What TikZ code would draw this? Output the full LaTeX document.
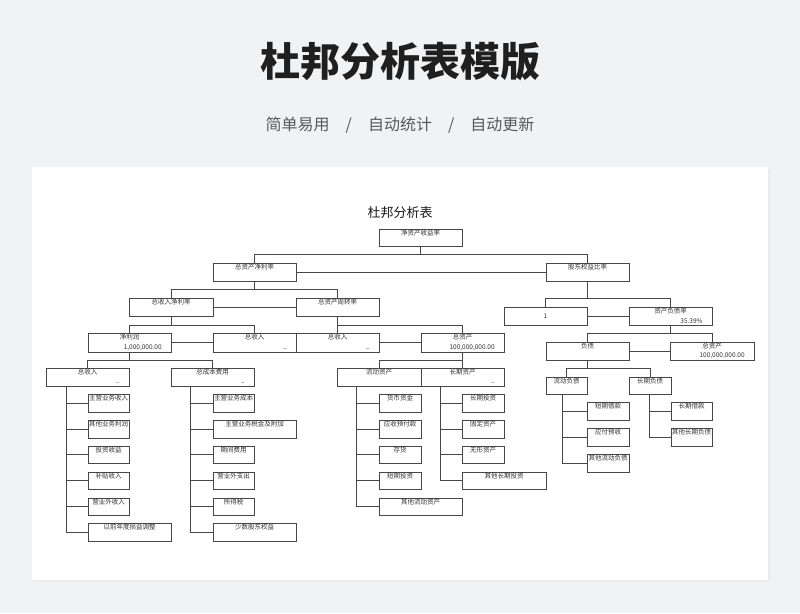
\documentclass[tikz,border=0pt]{standalone}
\usepackage{fontspec}
\setmainfont{Noto Sans CJK SC}
\usetikzlibrary{calc}
\definecolor{pagebg}{HTML}{F1F2F4}
\definecolor{ink}{HTML}{333333}
\tikzset{
  box/.style={draw=ink!90, line width=0.7pt, inner sep=0pt},
  txt/.style={font=\fontsize{6.5}{7}\selectfont, text=ink, inner sep=1.5pt},
  link/.style={draw=ink!90, line width=0.6pt}
}
% box: name, x1, y1, x2, y2, text
\newcommand\bx[6]{%
  \node[box, minimum width={(#4-#2)*1pt}, minimum height={(#5-#3)*1pt}]
    (#1) at ({(#2+#4)/2},{(#3+#5)/2}) {};
  \node[txt, anchor=north] at (#1.north) {#6};}
% value in lower right corner
\newcommand\val[2]{\node[txt, anchor=south east, xshift=-8pt] at (#1.south east) {#2};}
\begin{document}
\begin{tikzpicture}[x=1pt, y=-1pt]
\useasboundingbox (0,0) rectangle (800,613);
\fill[pagebg] (0,0) rectangle (800,613);

%Header
\node[font=\fontsize{40}{44}\selectfont\bfseries, text=black!88] (head) at (400,62) {杜邦分析表模版};
\node[font=\fontsize{16}{18}\selectfont, text=black!65] (sub) at (400,125) {简单易用\hspace{16pt}/\hspace{16pt}自动统计\hspace{16pt}/\hspace{16pt}自动更新};

%Card
\fill[black!8] (33,169) rectangle (770,582);
\fill[white] (32,167) rectangle (768,580);
\node[font=\fontsize{13}{15}\selectfont, text=black!90] (title) at (400,213) {杜邦分析表};

%Top levels
\bx{roe}{379}{229}{462}{246}{净资产收益率}
\bx{roa}{213}{263}{296}{281}{总资产净利率}
\bx{em}{546}{263}{629}{281}{股东权益比率}
\bx{npm}{129}{298}{213}{316}{总收入净利率}
\bx{tat}{296}{298}{379}{316}{总资产周转率}
\bx{one}{504}{307}{587}{325}{}
\node[txt] at (one) {1};
\bx{dar}{629}{307}{712}{325}{资产负债率}
\val{dar}{35.39\%}
\bx{np}{88}{333}{171}{352}{净利润}
\val{np}{1,000,000.00}
\bx{revA}{213}{333}{296}{352}{总收入}
\val{revA}{–}
\bx{revB}{296}{333}{379}{352}{总收入}
\val{revB}{–}
\bx{ta}{421}{333}{504}{352}{总资产}
\val{ta}{100,000,000.00}
\bx{debt}{546}{342}{629}{360}{负债}
\bx{taB}{670}{342}{754}{360}{总资产}
\val{taB}{100,000,000.00}

%Third level
\bx{rev}{46}{368}{129}{386}{总收入}
\val{rev}{–}
\bx{cost}{171}{368}{254}{386}{总成本费用}
\val{cost}{–}
\bx{ca}{337}{368}{421}{386}{流动资产}
\bx{lta}{421}{368}{504}{386}{长期资产}
\val{lta}{–}
\bx{cl}{546}{377}{587}{394}{流动负债}
\bx{ltl}{629}{377}{671}{394}{长期负债}

%Lists
\bx{r1}{88}{394}{129}{412}{主营业务收入}
\bx{r2}{88}{420}{129}{438}{其他业务利润}
\bx{r3}{88}{446}{129}{463}{投资收益}
\bx{r4}{88}{472}{129}{489}{补贴收入}
\bx{r5}{88}{498}{129}{515}{营业外收入}
\bx{r6}{88}{523}{171}{541}{以前年度损益调整}
\bx{c1}{213}{394}{254}{412}{主营业务成本}
\bx{c2}{213}{420}{296}{438}{主营业务税金及附加}
\bx{c3}{213}{446}{254}{463}{期间费用}
\bx{c4}{213}{472}{254}{489}{营业外支出}
\bx{c5}{213}{498}{254}{515}{所得税}
\bx{c6}{213}{523}{296}{541}{少数股东权益}
\bx{a1}{379}{394}{421}{412}{货币资金}
\bx{a2}{379}{420}{421}{438}{应收预付款}
\bx{a3}{379}{446}{421}{463}{存货}
\bx{a4}{379}{472}{421}{489}{短期投资}
\bx{a5}{379}{498}{462}{515}{其他流动资产}
\bx{l1}{462}{394}{504}{412}{长期投资}
\bx{l2}{462}{420}{504}{438}{固定资产}
\bx{l3}{462}{446}{504}{463}{无形资产}
\bx{l4}{462}{472}{546}{489}{其他长期投资}
\bx{d1}{587}{402}{629}{420}{短期借款}
\bx{d2}{587}{428}{629}{446}{应付预收}
\bx{d3}{587}{454}{629}{472}{其他流动负债}
\bx{e1}{671}{402}{712}{420}{长期借款}
\bx{e2}{671}{428}{712}{446}{其他长期负债}

%Links
\draw[link] (roe.south) -- ++(0,8) coordinate (b1);
\draw[link] (b1) -| (roa.north);
\draw[link] (b1) -| (em.north);
\draw[link] (roa.east) -- (em.west);
\draw[link] (roa.south) -- ++(0,8) coordinate (b2);
\draw[link] (b2) -| (npm.north);
\draw[link] (b2) -| (tat.north);
\draw[link] (npm.east) -- (tat.west);
\draw[link] (em.south) -- ++(0,17) coordinate (b3);
\draw[link] (b3) -| (one.north);
\draw[link] (b3) -| (dar.north);
\draw[link] (one.east) -- (dar.west);
\draw[link] (npm.south) -- ++(0,9) coordinate (b4);
\draw[link] (b4) -| (np.north);
\draw[link] (b4) -| (revA.north);
\draw[link] (np.east) -- (revA.west);
\draw[link] (tat.south) -- ++(0,9) coordinate (b5);
\draw[link] (b5) -| (revB.north);
\draw[link] (b5) -| (ta.north);
\draw[link] (revB.east) -- (ta.west);
\draw[link] (dar.south) -- ++(0,8) coordinate (b6);
\draw[link] (b6) -| (debt.north);
\draw[link] (b6) -| (taB.north);
\draw[link] (debt.east) -- (taB.west);
\draw[link] (np.south) -- ++(0,8) coordinate (b7);
\draw[link] (b7) -| (rev.north);
\draw[link] (b7) -| (cost.north);
\draw[link] (ta.south) -- ++(0,8) coordinate (b8);
\draw[link] (b8) -| (ca.north);
\draw[link] (b8) -| (lta.north);
\draw[link] (debt.south) -- ++(0,8) coordinate (b9);
\draw[link] (b9) -| (cl.north);
\draw[link] (b9) -| (ltl.north);

\draw[link] ($(rev.south west)+(21,0)$) |- (r6.west);
\foreach \n in {r1,r2,r3,r4,r5} \draw[link] (\n.west) -- ++(-21,0);
\draw[link] ($(cost.south west)+(20,0)$) |- (c6.west);
\foreach \n in {c1,c2,c3,c4,c5} \draw[link] (\n.west) -- ++(-22,0);
\draw[link] ($(ca.south west)+(20,0)$) |- (a5.west);
\foreach \n in {a1,a2,a3,a4} \draw[link] (\n.west) -- ++(-22,0);
\draw[link] ($(lta.south west)+(20,0)$) |- (l4.west);
\foreach \n in {l1,l2,l3} \draw[link] (\n.west) -- ++(-21,0);
\draw[link] ($(cl.south west)+(17,0)$) |- (d3.west);
\foreach \n in {d1,d2} \draw[link] (\n.west) -- ++(-24,0);
\draw[link] ($(ltl.south west)+(21,0)$) |- (e2.west);
\draw[link] (e1.west) -- ++(-21,0);
\end{tikzpicture}
\end{document}
